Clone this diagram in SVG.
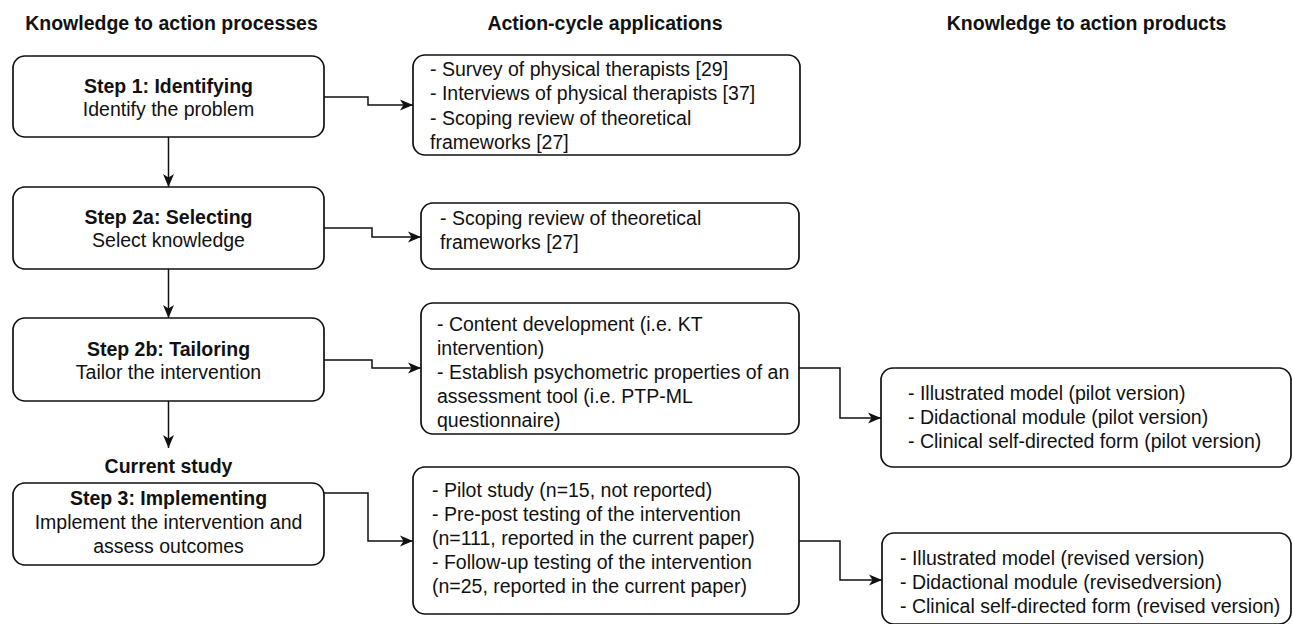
<svg xmlns="http://www.w3.org/2000/svg" width="1293" height="624" viewBox="0 0 1293 624">
<style>
text{font-family:"Liberation Sans",Arial,sans-serif;font-size:19.5px;fill:#111}
.b{font-weight:bold}
.c{text-anchor:middle}
.box{fill:#fff;stroke:#111;stroke-width:1.7}
.ln{fill:none;stroke:#111;stroke-width:1.5}
</style>
<defs>
<marker id="ah" markerUnits="userSpaceOnUse" markerWidth="14" markerHeight="12" refX="13" refY="6" orient="auto">
<path d="M0,0.5 L13,6 L0,11.5 L3.5,6 Z" fill="#111"/>
</marker>
</defs>
<rect width="1293" height="624" fill="#fff"/>
<g id="headers">
<text class="b c" x="171.5" y="30">Knowledge to action processes</text>
<text class="b c" x="605" y="30">Action-cycle applications</text>
<text class="b c" x="1086.5" y="30">Knowledge to action products</text>
</g>
<g id="connectors">
<path class="ln" d="M168.5,137 V187" marker-end="url(#ah)"/>
<path class="ln" d="M168.5,269 V318" marker-end="url(#ah)"/>
<path class="ln" d="M168.5,401 V448" marker-end="url(#ah)"/>
<path class="ln" d="M324,97 H368 V105 H413" marker-end="url(#ah)"/>
<path class="ln" d="M324,228 H372 V237 H421" marker-end="url(#ah)"/>
<path class="ln" d="M324,360 H372 V368 H421" marker-end="url(#ah)"/>
<path class="ln" d="M324,493 H368 V541 H413" marker-end="url(#ah)"/>
<path class="ln" d="M799,368 H840 V418 H881" marker-end="url(#ah)"/>
<path class="ln" d="M799,541 H840 V580 H882" marker-end="url(#ah)"/>
</g>
<g id="step1">
<rect class="box" x="13" y="56" width="311" height="81" rx="12"/>
<text class="b c" x="168.5" y="93">Step 1: Identifying</text>
<text class="c" x="168.5" y="116">Identify the problem</text>
</g>
<g id="step2a">
<rect class="box" x="13" y="187" width="311" height="82" rx="12"/>
<text class="b c" x="168.5" y="224">Step 2a: Selecting</text>
<text class="c" x="168.5" y="247">Select knowledge</text>
</g>
<g id="step2b">
<rect class="box" x="13" y="318" width="311" height="83" rx="12"/>
<text class="b c" x="168.5" y="355.5">Step 2b: Tailoring</text>
<text class="c" x="168.5" y="378.5">Tailor the intervention</text>
</g>
<g id="current-study">
<text class="b c" x="168.5" y="473">Current study</text>
</g>
<g id="step3">
<rect class="box" x="13" y="483" width="311" height="82" rx="12"/>
<text class="b c" x="168.5" y="505">Step 3: Implementing</text>
<text class="c" x="168.5" y="529">Implement the intervention and</text>
<text class="c" x="168.5" y="553">assess outcomes</text>
</g>
<g id="app1">
<rect class="box" x="413" y="55" width="387" height="100" rx="12"/>
<text x="430" y="76">- Survey of physical therapists [29]</text>
<text x="430" y="100">- Interviews of physical therapists [37]</text>
<text x="430" y="124.5">- Scoping review of theoretical</text>
<text x="430" y="148.5">frameworks [27]</text>
</g>
<g id="app2">
<rect class="box" x="421" y="203" width="378" height="66" rx="12"/>
<text x="440" y="225">- Scoping review of theoretical</text>
<text x="440" y="249">frameworks [27]</text>
</g>
<g id="app3">
<rect class="box" x="421" y="303" width="378" height="131" rx="12"/>
<text x="437" y="330.5">- Content development (i.e. KT</text>
<text x="437" y="354.5">intervention)</text>
<text x="437" y="378.5">- Establish psychometric properties of an</text>
<text x="437" y="402.5">assessment tool (i.e. PTP-ML</text>
<text x="437" y="426.5">questionnaire)</text>
</g>
<g id="app4">
<rect class="box" x="413" y="467" width="386" height="147" rx="12"/>
<text x="432" y="497">- Pilot study (n=15, not reported)</text>
<text x="432" y="521">- Pre-post testing of the intervention</text>
<text x="432" y="545">(n=111, reported in the current paper)</text>
<text x="432" y="569">- Follow-up testing of the intervention</text>
<text x="432" y="593">(n=25, reported in the current paper)</text>
</g>
<g id="product1">
<rect class="box" x="881" y="368" width="410" height="99" rx="12"/>
<text x="908" y="400">- Illustrated model (pilot version)</text>
<text x="908" y="424">- Didactional module (pilot version)</text>
<text x="908" y="448">- Clinical self-directed form (pilot version)</text>
</g>
<g id="product2">
<rect class="box" x="882" y="533" width="409" height="91" rx="12"/>
<text x="900" y="565">- Illustrated model (revised version)</text>
<text x="900" y="589">- Didactional module (revisedversion)</text>
<text x="900" y="613">- Clinical self-directed form (revised version)</text>
</g>
</svg>
